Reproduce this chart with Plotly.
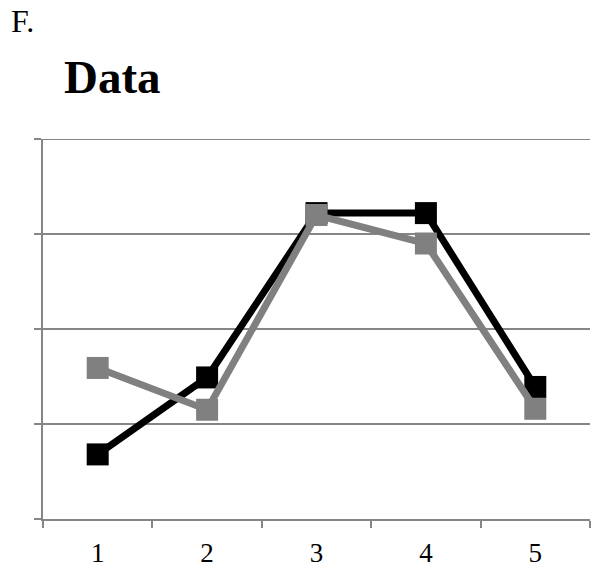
import plotly.graph_objects as go

categories = ["1", "2", "3", "4", "5"]
series_black = [0.68, 1.49, 3.22, 3.22, 1.39]
series_gray = [1.59, 1.15, 3.20, 2.90, 1.16]
y_max = 4

AX = "#868686"
SERIF = "Liberation Serif"

fig = go.Figure()
fig.add_trace(go.Scatter(
    x=categories, y=series_black, mode="lines+markers",
    line=dict(color="#000000", width=7),
    marker=dict(symbol="square", size=22, color="#000000"),
    showlegend=False, cliponaxis=False))
fig.add_trace(go.Scatter(
    x=categories, y=series_gray, mode="lines+markers",
    line=dict(color="#808080", width=7),
    marker=dict(symbol="square", size=22, color="#808080"),
    showlegend=False, cliponaxis=False))

# top gridline (plotly skips gridlines at the range edge)
fig.add_shape(type="line", xref="paper", yref="y", x0=0, x1=1, y0=y_max, y1=y_max,
              line=dict(color=AX, width=2), layer="below")

fig.update_layout(
    width=592, height=576,
    margin=dict(l=43, r=2, t=139, b=57),
    paper_bgcolor="white", plot_bgcolor="white",
    font=dict(family=SERIF, color="#000000"),
    xaxis=dict(type="category", range=[-0.5, 4.5], tickson="boundaries",
               ticks="outside", ticklen=7, tickcolor=AX, tickwidth=2,
               showline=True, linecolor=AX, linewidth=2, automargin=False,
               ticklabelstandoff=9,
               showgrid=False, tickfont=dict(family=SERIF, size=27, color="#000"),
               fixedrange=True),
    yaxis=dict(range=[0, y_max], tickvals=[0, 1, 2, 3, 4], showticklabels=False,
               ticks="outside", ticklen=7, tickcolor=AX, tickwidth=2,
               showline=True, linecolor=AX, linewidth=2, automargin=False,
               showgrid=True, gridcolor=AX, gridwidth=2, zeroline=False,
               fixedrange=True),
    annotations=[
        dict(text="F.", xref="paper", yref="paper", x=-0.062, y=1.31,
             xanchor="left", yanchor="middle", showarrow=False,
             font=dict(family=SERIF, size=32, color="#000")),
        dict(text="<b>Data</b>", xref="paper", yref="paper", x=0.035, y=1.163,
             xanchor="left", yanchor="middle", showarrow=False,
             font=dict(family=SERIF, size=47, color="#000")),
    ],
)

fig.write_html("out.html", config={"displayModeBar": False},
               post_script="document.body.style.margin='0';")
